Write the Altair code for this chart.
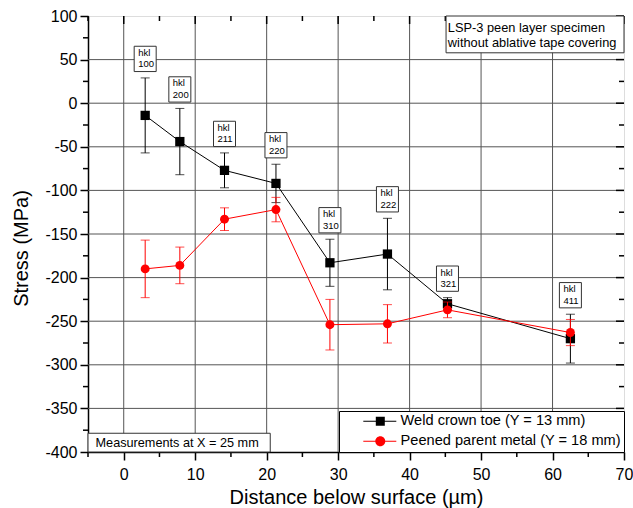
import altair as alt
import pandas as pd

# ---- data ----
depth = [3.0, 7.85, 14.1, 21.3, 28.85, 36.9, 45.3, 62.5]
weld_stress = [-14, -44, -77, -92, -183, -173, -230, -270]
weld_err = [43, 38, 20, 22, 27, 41, 7, 28]
peen_stress = [-190, -186, -133, -122, -254, -253, -237, -263]
peen_err = [33, 21, 13, 14, 29, 22, 9, 15]
hkl = ["100", "200", "211", "220", "310", "222", "321", "411"]
series_names = ["Weld crown toe (Y = 13 mm)", "Peened parent metal (Y = 18 mm)"]
series_colors = ["#000000", "#ff0000"]
x_major = list(range(0, 71, 10))
x_minor = list(range(-5, 70, 10))
y_major = list(range(-400, 101, 50))
y_minor = list(range(-375, 100, 50))

FONT = "Liberation Sans"
W, H = 536, 436

weld = pd.DataFrame({"depth": depth, "stress": weld_stress, "err": weld_err,
                     "hkl": ["hkl\n" + h for h in hkl]})
weld["lo"] = weld["stress"] - weld["err"]
weld["hi"] = weld["stress"] + weld["err"]
peen = pd.DataFrame({"depth": depth, "stress": peen_stress, "err": peen_err})
peen["lo"] = peen["stress"] - peen["err"]
peen["hi"] = peen["stress"] + peen["err"]

legend_df = pd.DataFrame({"depth": depth * 2,
                          "stress": weld_stress + peen_stress,
                          "series": [series_names[0]] * 8 + [series_names[1]] * 8})

xs = alt.Scale(domain=[-5, 70], nice=False, zero=False)
ys = alt.Scale(domain=[-400, 100], nice=False, zero=False)

x_axis = alt.Axis(
    title="Distance below surface (µm)", values=x_major,
    labelExpr="'' + datum.value",
    labelOverlap=False, labelFlush=False,
    labelFontSize=16, labelFont=FONT, labelColor="black", labelPadding=6,
    titleFontSize=20, titleFont=FONT, titleFontWeight="normal", titleColor="black",
    titleY=35, titleBaseline="top",
    tickColor="black", tickWidth=1.5, tickSize=8,
    domainColor="black", domainWidth=1.5, grid=False,
)
y_axis = alt.Axis(
    title="Stress (MPa)", values=y_major,
    labelExpr="'' + datum.value",
    labelOverlap=False, labelFlush=False,
    labelFontSize=16, labelFont=FONT, labelColor="black", labelPadding=3,
    titleFontSize=20, titleFont=FONT, titleFontWeight="normal", titleColor="black",
    titleX=-57, titleY=232,
    tickColor="black", tickWidth=1.5, tickSize=8,
    domainColor="black", domainWidth=1.5, grid=False,
)


def X(field):
    return alt.X(field, type="quantitative", scale=xs, axis=x_axis)


def Y(field):
    return alt.Y(field, type="quantitative", scale=ys, axis=y_axis)


def XD(v):
    return alt.XDatum(v, type="quantitative", scale=xs, axis=x_axis)


def YD(v):
    return alt.YDatum(v, type="quantitative", scale=ys, axis=y_axis)


xmaj_df = pd.DataFrame({"t": x_major})
xmin_df = pd.DataFrame({"t": x_minor})
ymaj_df = pd.DataFrame({"t": y_major})
ymin_df = pd.DataFrame({"t": y_minor})

# grid lines at the labelled ticks
GRID = "#555555"
x_grid = alt.Chart(xmaj_df).transform_filter("datum.t < 70").mark_rule(
    color=GRID, strokeWidth=1).encode(x=X("t"), y=alt.value(0), y2=alt.value(H))
y_grid = alt.Chart(ymaj_df).transform_filter(
    "datum.t > -400 && datum.t < 100").mark_rule(
    color=GRID, strokeWidth=1).encode(y=Y("t"), x=alt.value(0), x2=alt.value(W))
layers = [x_grid, y_grid]

for df, color, shape, size in [(weld, series_colors[0], "square", 86),
                               (peen, series_colors[1], "circle", 80)]:
    base = alt.Chart(df)
    rule = base.mark_rule(color=color, strokeWidth=1).encode(
        x=X("depth"), y=Y("lo"), y2="hi")
    cap_lo = base.mark_tick(color=color, orient="horizontal", size=9, thickness=1).encode(
        x=X("depth"), y=Y("lo"))
    cap_hi = base.mark_tick(color=color, orient="horizontal", size=9, thickness=1).encode(
        x=X("depth"), y=Y("hi"))
    line = base.mark_line(color=color, strokeWidth=1).encode(x=X("depth"), y=Y("stress"))
    pts = base.mark_point(color=color, filled=True, shape=shape, size=size, opacity=1).encode(
        x=X("depth"), y=Y("stress"))
    layers += [rule, cap_lo, cap_hi, line, pts]

# hkl label boxes above the weld error bars
box_path = "M-1,-1.15 L1,-1.15 L1,1.15 L-1,1.15 Z"
hkl_box = alt.Chart(weld).mark_point(
    shape=box_path, size=484, filled=True, fill="white", stroke="#333333",
    strokeWidth=1, opacity=1, yOffset=-19).encode(x=X("depth"), y=Y("hi"))
hkl_text = alt.Chart(weld).mark_text(
    align="left", baseline="middle", dx=-7, yOffset=-25, fontSize=9.5,
    lineHeight=11.5, lineBreak="\n", font=FONT, color="black").encode(
    x=X("depth"), y=Y("hi"), text="hkl:N")
layers += [hkl_box, hkl_text]

# minor outward ticks (bottom/left) and inward ticks on top/right frame
TK = dict(color="black", strokeWidth=1.5)
bottom_minor = alt.Chart(xmin_df).mark_rule(**TK).encode(
    x=X("t"), y=alt.value(H), y2=alt.value(H + 5))
left_minor = alt.Chart(ymin_df).mark_rule(**TK).encode(
    y=Y("t"), x=alt.value(0), x2=alt.value(-5))
top_major = alt.Chart(xmaj_df).mark_rule(**TK).encode(
    x=X("t"), y=alt.value(0), y2=alt.value(8))
top_minor = alt.Chart(xmin_df).mark_rule(**TK).encode(
    x=X("t"), y=alt.value(0), y2=alt.value(5))
right_major = alt.Chart(ymaj_df).mark_rule(**TK).encode(
    y=Y("t"), x=alt.value(W), x2=alt.value(W - 8))
right_minor = alt.Chart(ymin_df).mark_rule(**TK).encode(
    y=Y("t"), x=alt.value(W), x2=alt.value(W - 5))
layers += [bottom_minor, left_minor, top_major, top_minor, right_major, right_minor]

# annotation boxes
one = pd.DataFrame({"a": [0]})
note_box = alt.Chart(one).mark_rect(
    fill="white", stroke="#333333", strokeWidth=1).encode(
    x=XD(45.1), x2=alt.X2Datum(70), y=YD(100), y2=alt.Y2Datum(57.8))
note_text = alt.Chart(one).mark_text(
    align="left", baseline="middle", fontSize=12.8, lineHeight=15, lineBreak="\n",
    font=FONT, color="black",
    text="LSP-3 peen layer specimen\nwithout ablative tape covering").encode(
    x=XD(45.35), y=YD(86.4))
meas_box = alt.Chart(one).mark_rect(
    fill="white", stroke="#333333", strokeWidth=1).encode(
    x=XD(-5), x2=alt.X2Datum(20.5), y=YD(-400), y2=alt.Y2Datum(-378.5))
meas_text = alt.Chart(one).mark_text(
    align="left", baseline="middle", fontSize=12.7, font=FONT, color="black",
    text="Measurements at X = 25 mm").encode(x=XD(-3.95), y=YD(-389.5))
layers += [note_box, note_text, meas_box, meas_text]

# legend (symbols: line with marker)
sq_path = ("M2.8,-0.1 L9.4,-0.1 L9.4,0.1 L2.8,0.1 Z "
           "M5.3,-0.9 L7.1,-0.9 L7.1,0.9 L5.3,0.9 Z")
ci_path = ("M2.8,-0.1 L9.4,-0.1 L9.4,0.1 L2.8,0.1 Z "
           "M7.2,0 A1,1 0 1,1 5.2,0 A1,1 0 1,1 7.2,0 Z")
leg = alt.Legend(title=None, orient="bottom-right", offset=0, padding=3,
                 strokeColor="black", fillColor="white",
                 labelFontSize=14.6, labelFont=FONT, labelColor="black", labelLimit=400,
                 symbolSize=100, labelOffset=44, rowPadding=4, clipHeight=14.5,
                 symbolStrokeWidth=0, symbolOpacity=1)
legend_layer = alt.Chart(legend_df).transform_filter("datum.depth < -100").mark_point(
    filled=True, opacity=1).encode(
    x=X("depth"), y=Y("stress"),
    color=alt.Color("series:N", scale=alt.Scale(domain=series_names, range=series_colors),
                    legend=leg),
    shape=alt.Shape("series:N", scale=alt.Scale(domain=series_names, range=[sq_path, ci_path]),
                    legend=leg))
layers.append(legend_layer)

chart = alt.layer(*layers).properties(
    width=W, height=H,
    autosize=alt.AutoSizeParams(type="none"),
    padding={"left": 88, "top": 16, "right": 9, "bottom": 56},
    background="white",
).configure_view(stroke="black", strokeWidth=1.5).configure(font=FONT)

chart.save("out.html", embed_options={"renderer": "svg", "actions": False})
